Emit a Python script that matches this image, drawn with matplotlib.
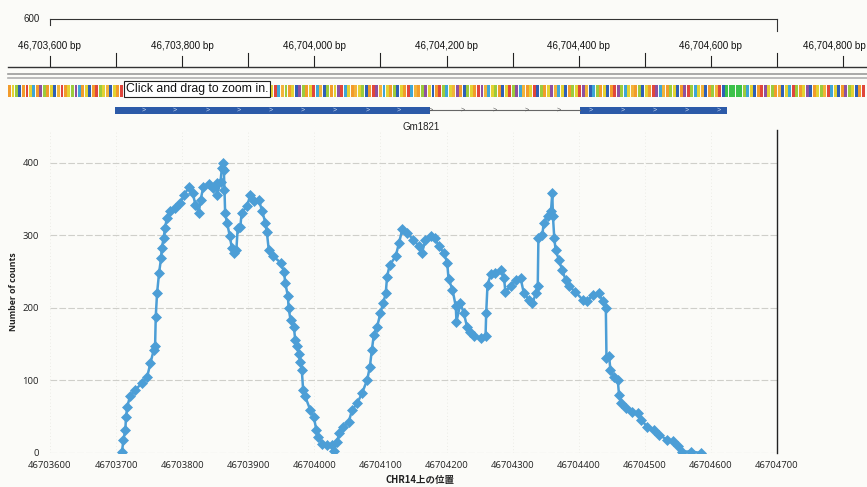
import matplotlib
matplotlib.use("Agg")
import matplotlib.pyplot as plt
from matplotlib.patches import Rectangle

# ---------------- data ----------------
positions = [
    46703709, 46703711, 46703714, 46703715, 46703717, 46703721, 46703729, 46703739, 46703747, 46703752,
    46703757, 46703759, 46703760, 46703762, 46703765, 46703768, 46703769, 46703772, 46703774, 46703777,
    46703781, 46703789, 46703797, 46703803, 46703811, 46703816, 46703820, 46703825, 46703828, 46703832,
    46703840, 46703847, 46703852, 46703853, 46703858, 46703860, 46703862, 46703863, 46703864, 46703865,
    46703868, 46703872, 46703875, 46703878, 46703882, 46703884, 46703888, 46703890, 46703898, 46703903,
    46703908, 46703916, 46703921, 46703926, 46703928, 46703931, 46703938, 46703949, 46703954, 46703956,
    46703960, 46703961, 46703964, 46703969, 46703971, 46703974, 46703976, 46703979, 46703981, 46703983,
    46703986, 46703994, 46703999,
    46704003, 46704006, 46704012, 46704019, 46704027, 46704030, 46704034, 46704038, 46704044, 46704052,
    46704057, 46704065, 46704072, 46704080, 46704084, 46704087, 46704090, 46704095, 46704100, 46704104,
    46704108, 46704110, 46704114, 46704123, 46704128, 46704133, 46704140, 46704150, 46704158, 46704163,
    46704168, 46704176, 46704183, 46704188, 46704196, 46704201, 46704203, 46704209, 46704214, 46704215,
    46704221, 46704226, 46704231, 46704236, 46704241, 46704252, 46704259, 46704260, 46704262, 46704267,
    46704274, 46704282, 46704287, 46704289, 46704297, 46704305, 46704312, 46704317, 46704325, 46704330,
    46704335, 46704338, 46704339, 46704345, 46704347, 46704353, 46704358, 46704360, 46704361, 46704363,
    46704365, 46704370, 46704375, 46704380, 46704385, 46704395, 46704406, 46704413, 46704421, 46704431,
    46704436, 46704441, 46704442, 46704446, 46704448, 46704453, 46704459, 46704461, 46704464, 46704471,
    46704481, 46704489, 46704494, 46704504, 46704514, 46704522, 46704534, 46704542, 46704550, 46704557,
    46704570, 46704585,
]
counts = [
    2, 18, 32, 50, 64, 78, 87, 96, 105, 124,
    142, 147, 188, 220, 248, 268, 282, 296, 310, 324,
    333, 337, 344, 356, 367, 358, 342, 331, 349, 367,
    370, 365, 372, 356, 374, 392, 400, 390, 363, 330,
    317, 299, 283, 275, 280, 310, 312, 331, 340, 355,
    347, 349, 333, 317, 305, 280, 271, 262, 250, 234,
    216, 200, 183, 174, 156, 147, 137, 126, 114, 87,
    78, 59, 50,
    32, 22, 13, 11, 11, 3, 15, 27, 36, 43,
    59, 69, 82, 101, 119, 142, 163, 174, 193, 206,
    220, 243, 259, 271, 289, 308, 303, 294, 285, 276,
    294, 299, 296, 285, 276, 262, 240, 225, 202, 181,
    206, 193, 174, 167, 161, 158, 161, 193, 232, 246,
    248, 252, 241, 222, 230, 239, 241, 220, 211, 206,
    220, 230, 296, 301, 317, 326, 333, 358, 326, 296,
    280, 266, 252, 239, 230, 222, 211, 209, 218, 220,
    209, 200, 131, 133, 114, 105, 101, 80, 69, 62,
    57, 55, 46, 36, 32, 25, 18, 16, 9, 2,
    2, 0,
]
x_ticks = list(range(46703600, 46704701, 100))
y_ticks = [0, 100, 200, 300, 400]
ruler_labels = list(range(46703600, 46704801, 200))
ruler_minor = list(range(46703700, 46704801, 200))
gene_name = "Gm1821"
exons = [(46703698, 46704175), (46704402, 46704624)]
intron = (46704175, 46704402)
strand_marks = [46703741, 46703789, 46703838, 46703886, 46703934, 46703983, 46704031,
                46704080, 46704128, 46704176, 46704225, 46704273, 46704322, 46704370,
                46704418, 46704467, 46704515, 46704564, 46704612]
seq_track = ("aglcatgsap" "lagcotaglp" "sagcatlgoc" "gatplscgao" "lcgatsgapl"
             "oagctlgsap" "caglotgsca" "pglacgtsol" "agcplagtso" "clagptsgao"
             "glcatposga" "lcgatsoalp" "gcatlsgopa" "clgatposgl" "acgtlpsoag"
             "tclagposgc" "algtpocsla" "gcatplsgoa" "lcgatpsoal" "gcaptlsgoc"
             "alotcGGGGG" "lsgcatpgla" "ocgstlagpc" "aglotsgcap" "lgcat")
seq_colors = {"a": "#F29B2B", "o": "#F2B33A", "g": "#E3D232", "l": "#9CCB3C",
              "G": "#3CC24A", "c": "#2F5FB5", "s": "#3FA6D6", "t": "#E0463C",
              "p": "#8E50A0"}

# ---------------- figure ----------------
W, H = 867, 487
fig = plt.figure(figsize=(W / 100, H / 100), dpi=100, facecolor="#fbfbf8")

X0, X1 = 46703600, 46704700
PX0, PX1 = 50, 777
scale = (X1 - X0) / (PX1 - PX0)


def bp(px):
    return X0 + (px - PX0) * scale


# background / genome browser layer (x in bp, y in pixels)
bg = fig.add_axes([0, 0, 1, 1], zorder=0)
bg.set_xlim(bp(0), bp(W))
bg.set_ylim(H, 0)
bg.axis("off")
bg.patch.set_alpha(0)

arial = "Liberation Sans"
# top "600" scale line
bg.text(bp(40), 19, "600", ha="right", va="center", fontsize=7, family=arial, color="#222")
bg.plot([X0, X1], [19, 19], color="#333", lw=0.8)
bg.plot([X0, X0], [19, 25], color="#333", lw=0.8)
bg.plot([X1, X1], [19, 31], color="#333", lw=0.8)

# ruler
for k, v in enumerate(ruler_labels):
    last = k == len(ruler_labels) - 1
    bg.text(bp(866) if last else v, 46, f"{v:,} bp", ha="right" if last else "center",
            va="center", fontsize=7.1, family=arial, color="#111")
    bg.plot([v, v], [56, 66], color="#222", lw=0.8)
for v in ruler_minor:
    bg.plot([v, v], [53, 66], color="#222", lw=0.8)
bg.plot([bp(8), bp(W)], [67, 67], color="#333", lw=1.0)
bg.plot([bp(8), bp(W)], [74, 74], color="#9a9a9a", lw=1.2)
bg.plot([bp(8), bp(W)], [77.5, 77.5], color="#b0b0b0", lw=1.2)

# sequence colour track
step = 3.5 * scale
start = bp(8)
for i, ch in enumerate(seq_track):
    bg.add_patch(Rectangle((start + i * step, 85), step * 0.8, 12,
                           facecolor=seq_colors[ch], edgecolor="none"))

# tooltip
bg.text(bp(126), 89, "Click and drag to zoom in.", ha="left", va="center",
        fontsize=8.8, family=arial, color="#111",
        bbox=dict(boxstyle="square,pad=0.15", fc="white", ec="#222", lw=0.8))

# gene model
bg.plot(list(intron), [110, 110], color="#666", lw=0.8)
for s, e in exons:
    bg.add_patch(Rectangle((s, 106.5), e - s, 7.5, facecolor="#2C5AA8", edgecolor="none"))
for m in strand_marks:
    inside = any(s + 5 < m < e - 5 for s, e in exons)
    if inside:
        bg.text(m, 110, ">", ha="center", va="center", fontsize=5, color="#d0dcf2", family=arial)
    elif intron[0] < m < intron[1]:
        bg.text(m, 110, ">", ha="center", va="center", fontsize=5, color="#555", family=arial)
bg.text(bp(421), 127, gene_name, ha="center", va="center", fontsize=7, family=arial,
        color="#222")

# ---------------- main chart ----------------
top_px, bot_px = 130, 453
ax = fig.add_axes([PX0 / W, (H - bot_px) / H, (PX1 - PX0) / W, (bot_px - top_px) / H], zorder=1)
ax.set_facecolor("none")
line_c = "#4C9ED6"
ax.plot(positions, counts, "-", color=line_c, lw=1.8, marker="D", ms=4.8,
        mfc=line_c, mec=line_c, mew=0.5)
ax.set_xlim(X0, X1)
ax.set_ylim(0, 445)
ax.set_xticks(x_ticks)
ax.set_xticklabels([str(v) for v in x_ticks])
ax.set_yticks(y_ticks)
ax.set_yticklabels([str(v) for v in y_ticks])
for side in ("left", "top", "bottom"):
    ax.spines[side].set_visible(False)
ax.spines["right"].set_color("#222")
ax.spines["right"].set_linewidth(1.0)
ax.grid(axis="y", color="#cfcfca", lw=0.8, ls=(0, (6, 2)))
ax.grid(axis="x", color="#e6e6e0", lw=0.6, ls=(0, (1, 3)))
ax.set_axisbelow(True)
chart_font = "Open Sans"
ax.tick_params(length=0, labelsize=6.8, colors="#222")
ax.tick_params(axis="y", pad=8)
ax.tick_params(axis="x", pad=6)
for lab in ax.get_xticklabels() + ax.get_yticklabels():
    lab.set_family(chart_font)
ax.set_ylabel("Number of counts", fontsize=6.3, fontweight="bold", family=chart_font, color="#222")
ax.yaxis.set_label_coords(-(PX0 - 18) / (PX1 - PX0), 0.5)
ax.set_xlabel("CHR14上の位置", fontsize=6.8, fontweight="bold",
              family=["Noto Sans CJK JP", "DejaVu Sans"], color="#222")
ax.xaxis.set_label_coords((420 - PX0) / (PX1 - PX0), -(475 - bot_px) / (bot_px - top_px))

fig.savefig("out.png", dpi=100, facecolor=fig.get_facecolor())
